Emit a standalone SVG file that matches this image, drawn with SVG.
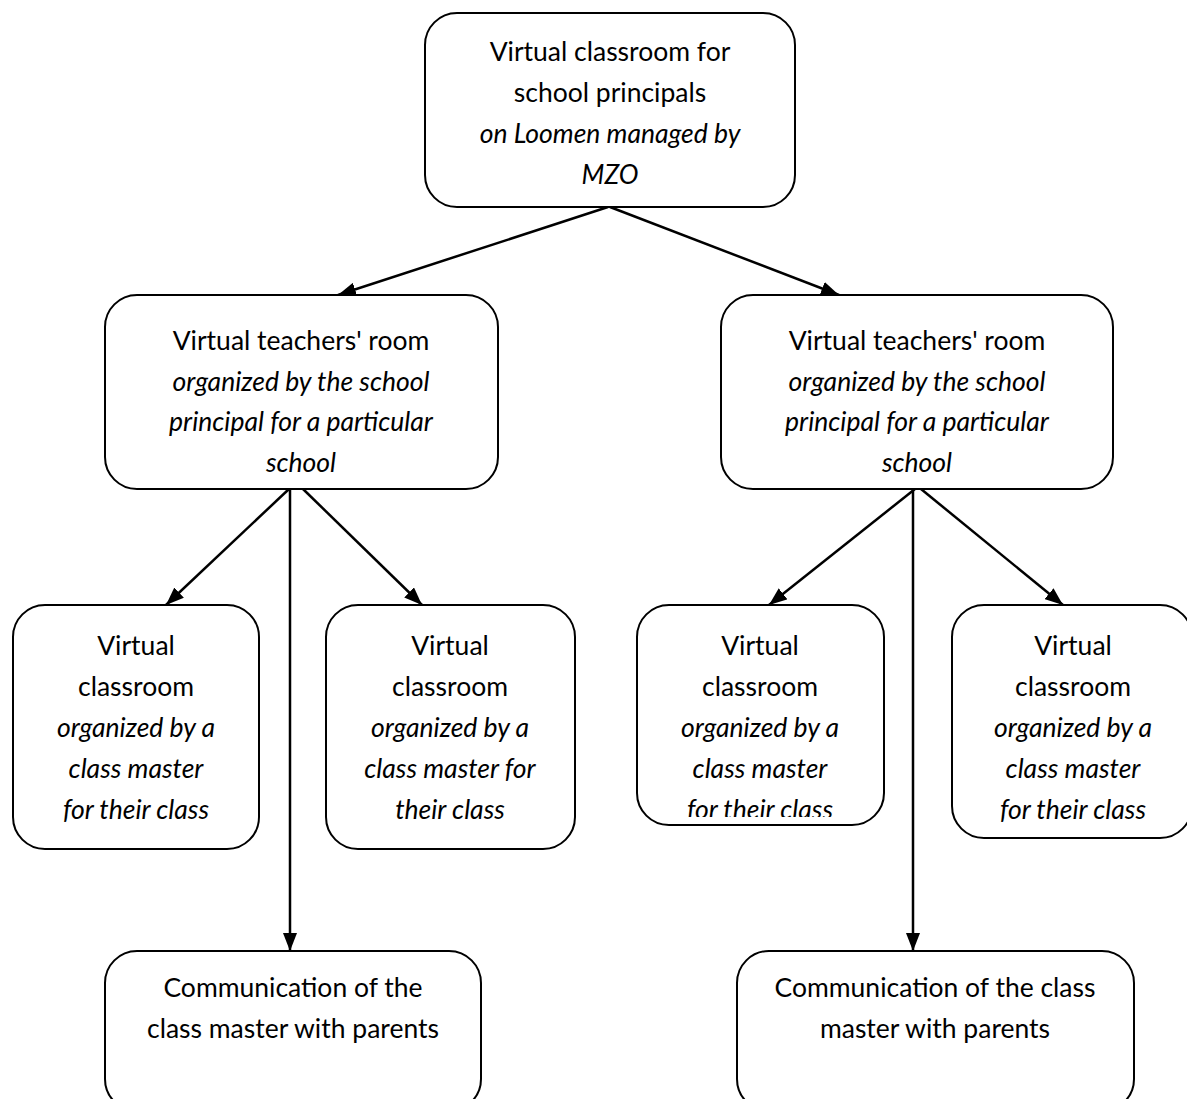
<svg xmlns="http://www.w3.org/2000/svg" width="1187" height="1099" viewBox="0 0 1187 1099">
<style>
.box{fill:#fff;stroke:#000;stroke-width:2}
.t{font-family:Lato,"Liberation Sans",sans-serif;font-size:26.5px;fill:#000;text-anchor:middle}
.i{font-style:italic}
.c{stroke:#000;stroke-width:2.5;fill:none;marker-end:url(#ah)}
</style>
<defs>
<marker id="ah" viewBox="0 0 18 14" refX="18" refY="7" markerWidth="18" markerHeight="14" markerUnits="userSpaceOnUse" orient="auto">
<path d="M0,0 L18,7 L0,14 z" fill="#000"/>
</marker>
</defs>
<g id="connectors">
<line class="c" x1="608" y1="207" x2="338" y2="295"/>
<line class="c" x1="610" y1="207" x2="839" y2="295"/>
<line class="c" x1="289" y1="489" x2="166" y2="605"/>
<line class="c" x1="303" y1="489" x2="422" y2="605"/>
<line class="c" x1="290" y1="489" x2="290" y2="951"/>
<line class="c" x1="915" y1="489" x2="769" y2="605"/>
<line class="c" x1="921" y1="489" x2="1063" y2="605"/>
<line class="c" x1="913" y1="489" x2="913" y2="951"/>
</g>
<g id="top">
<rect class="box" x="425" y="13" width="370" height="194" rx="32"/>
<text class="t" x="610" y="61">Virtual classroom for</text>
<text class="t" x="610" y="102">school principals</text>
<text class="t i" x="610" y="143">on Loomen managed by</text>
<text class="t i" x="610" y="184">MZO</text>
</g>
<g id="midL">
<rect class="box" x="105" y="295" width="393" height="194" rx="32"/>
<text class="t" x="301" y="350">Virtual teachers' room</text>
<text class="t i" x="301" y="391">organized by the school</text>
<text class="t i" x="301" y="431">principal for a particular</text>
<text class="t i" x="301" y="472">school</text>
</g>
<g id="midR">
<rect class="box" x="721" y="295" width="392" height="194" rx="32"/>
<text class="t" x="917" y="350">Virtual teachers' room</text>
<text class="t i" x="917" y="391">organized by the school</text>
<text class="t i" x="917" y="431">principal for a particular</text>
<text class="t i" x="917" y="472">school</text>
</g>
<g id="c1">
<rect class="box" x="13" y="605" width="246" height="244" rx="32"/>
<text class="t" x="136" y="655">Virtual</text>
<text class="t" x="136" y="696">classroom</text>
<text class="t i" x="136" y="737">organized by a</text>
<text class="t i" x="136" y="778">class master</text>
<text class="t i" x="136" y="819">for their class</text>
</g>
<g id="c2">
<rect class="box" x="326" y="605" width="249" height="244" rx="32"/>
<text class="t" x="450" y="655">Virtual</text>
<text class="t" x="450" y="696">classroom</text>
<text class="t i" x="450" y="737">organized by a</text>
<text class="t i" x="450" y="778">class master for</text>
<text class="t i" x="450" y="819">their class</text>
</g>
<g id="c3">
<clipPath id="cp3"><rect x="637" y="605" width="248" height="212"/></clipPath>
<rect class="box" x="637" y="605" width="247" height="220" rx="32"/>
<g clip-path="url(#cp3)">
<text class="t" x="760" y="655">Virtual</text>
<text class="t" x="760" y="696">classroom</text>
<text class="t i" x="760" y="737">organized by a</text>
<text class="t i" x="760" y="778">class master</text>
<text class="t i" x="760" y="819">for their class</text>
</g>
</g>
<g id="c4">
<rect class="box" x="952" y="605" width="240" height="233" rx="32"/>
<text class="t" x="1073" y="655">Virtual</text>
<text class="t" x="1073" y="696">classroom</text>
<text class="t i" x="1073" y="737">organized by a</text>
<text class="t i" x="1073" y="778">class master</text>
<text class="t i" x="1073" y="819">for their class</text>
</g>
<g id="b1">
<rect class="box" x="105" y="951" width="376" height="160" rx="32"/>
<text class="t" x="293" y="997">Communication of the</text>
<text class="t" x="293" y="1038">class master with parents</text>
</g>
<g id="b2">
<rect class="box" x="737" y="951" width="397" height="160" rx="32"/>
<text class="t" x="935" y="997">Communication of the class</text>
<text class="t" x="935" y="1038">master with parents</text>
</g>
</svg>
